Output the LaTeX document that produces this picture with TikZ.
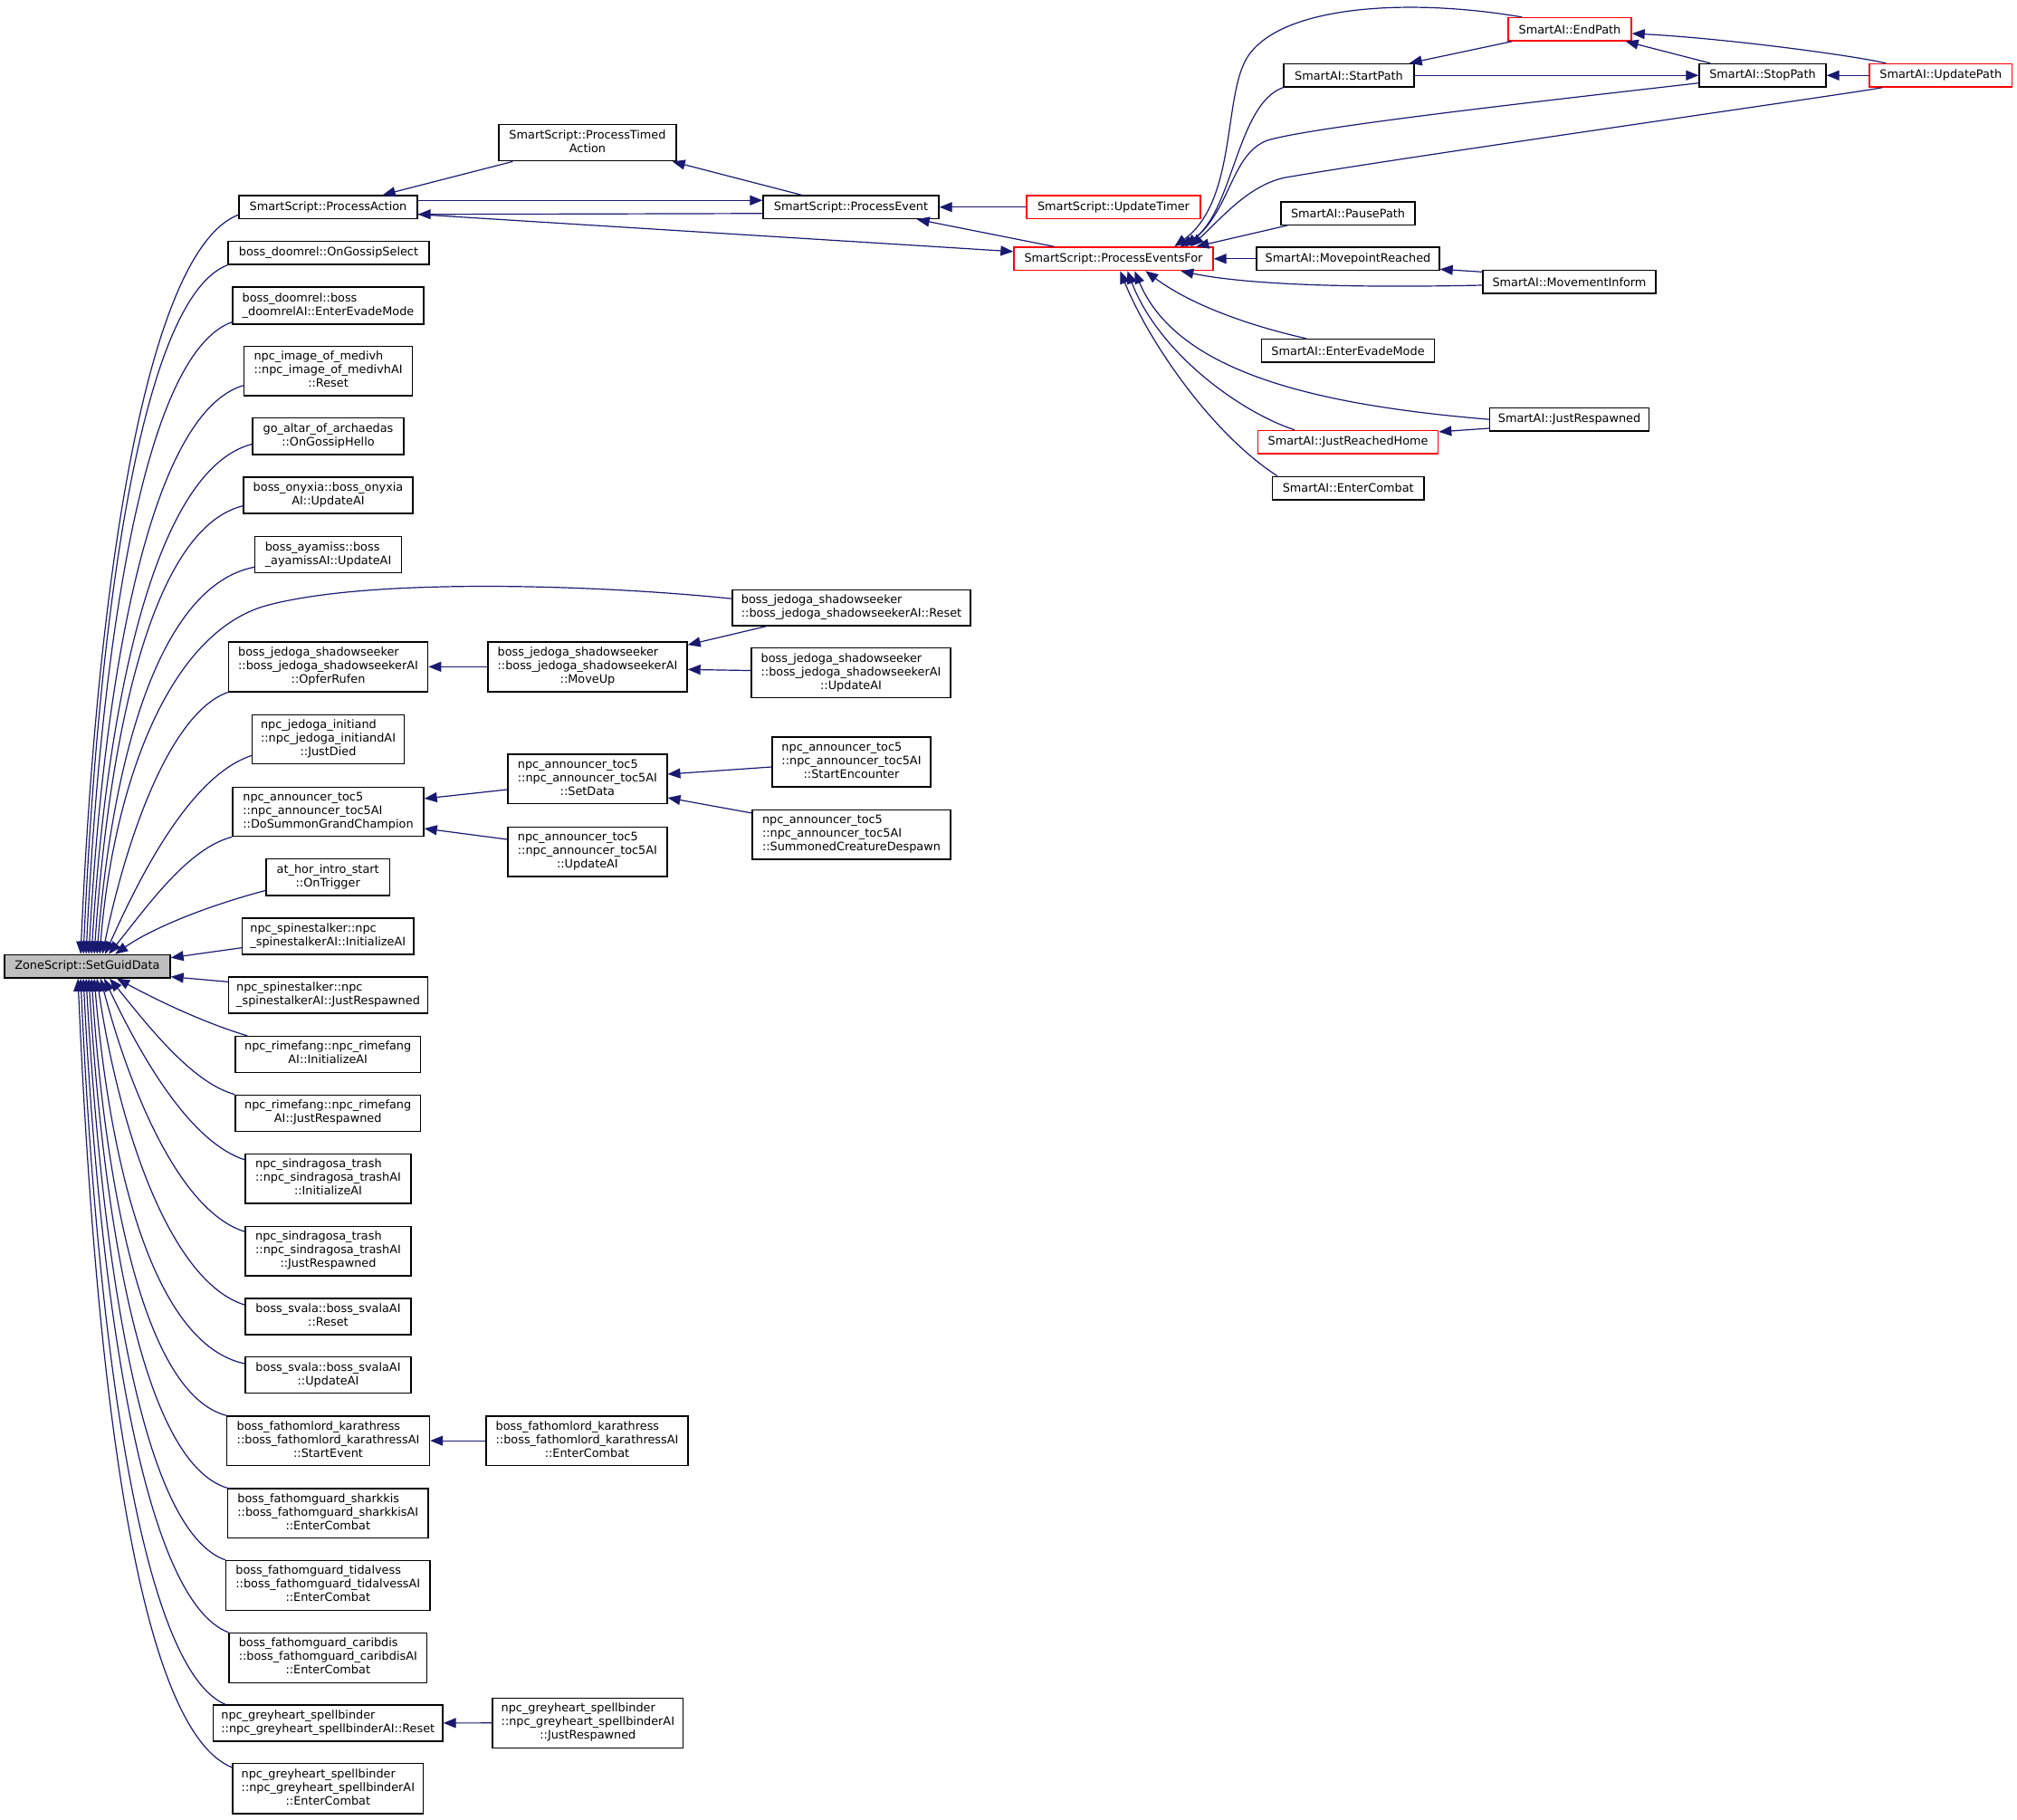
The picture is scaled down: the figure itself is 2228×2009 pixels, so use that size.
\documentclass[tikz,border=0pt]{standalone}
\usepackage{fontspec}
\setmainfont{DejaVu Sans}
\usetikzlibrary{arrows.meta,calc}
\newcommand{\lb}[1]{\begin{tabular}{@{}l@{}}#1\end{tabular}}
\newcommand{\cl}[1]{\multicolumn{1}{@{}c@{}}{#1}}
\newcommand{\nd}[7][box]{\node[#1, minimum width={(#5-#3)*0.5pt}, minimum height={(#6-#4)*0.5pt}] (#2) at ({(#3+#5)/2},{(#4+#6)/2}) {#7};}
\definecolor{edgeblue}{RGB}{25,25,112}
\definecolor{hlgray}{RGB}{191,191,191}
\begin{document}
\begin{tikzpicture}[x=0.5pt,y=-0.5pt,
  box/.style={draw=black, line width=0.7pt, fill=white, inner sep=0pt, anchor=center, font={\fontsize{6.42pt}{7.5pt}\selectfont}},
  redbox/.style={box, draw=red},
  graybox/.style={box, fill=hlgray},
  edge/.style={draw=edgeblue, line width=0.6pt, -{Triangle[length=7pt,width=5.5pt]}}]
\useasboundingbox (0,0) rectangle (2228,2009);

% ---- right cluster
\nd{PTA}{551}{137.5}{747}{177.7}{\lb{SmartScript::ProcessTimed\\ \cl{Action}}}
\nd{PA}{264}{216}{461}{241.5}{SmartScript::ProcessAction}
\nd{PE}{843}{216}{1037}{241.5}{SmartScript::ProcessEvent}
\nd[redbox]{UT}{1134}{216}{1326}{241.5}{SmartScript::UpdateTimer}
\nd[redbox]{PEF}{1120}{273}{1340}{298.6}{SmartScript::ProcessEventsFor}
\nd[redbox]{EP}{1666}{19.6}{1802}{45}{SmartAI::EndPath}
\nd{SP}{1418}{70.5}{1562}{96}{SmartAI::StartPath}
\nd{STP}{1877}{70.5}{2017}{96}{SmartAI::StopPath}
\nd[redbox]{UP}{2065}{70.5}{2222.5}{96}{SmartAI::UpdatePath}
\nd{PP}{1415}{222.8}{1563}{248.2}{SmartAI::PausePath}
\nd{MPR}{1388}{273}{1590}{298.6}{SmartAI::MovepointReached}
\nd{MI}{1638}{298.6}{1829}{324}{SmartAI::MovementInform}
\nd{SEE}{1393.5}{374.5}{1584.6}{400}{SmartAI::EnterEvadeMode}
\nd{JR}{1645.5}{450.4}{1821.6}{475.9}{SmartAI::JustRespawned}
\nd[redbox]{JRH}{1389.6}{475.4}{1588.6}{500.9}{SmartAI::JustReachedHome}
\nd{SEC}{1405.6}{526.3}{1572.8}{551.8}{SmartAI::EnterCombat}

% ---- left column and middle
\nd{OGS}{252}{266.5}{474}{292}{boss\_doomrel::OnGossipSelect}
\nd{DEE}{257}{317}{468}{358}{\lb{boss\_doomrel::boss\\ \cl{\_doomrelAI::EnterEvadeMode}}}
\nd{MED}{269.5}{382.6}{455.6}{437}{\lb{npc\_image\_of\_medivh\\ ::npc\_image\_of\_medivhAI\\ \cl{::Reset}}}
\nd{ALT}{279}{461.6}{446}{501.8}{\lb{go\_altar\_of\_archaedas\\ \cl{::OnGossipHello}}}
\nd{ONY}{269}{526.8}{456}{567}{\lb{boss\_onyxia::boss\_onyxia\\ \cl{AI::UpdateAI}}}
\nd{AYA}{281.6}{592.4}{443.5}{632.6}{\lb{boss\_ayamiss::boss\\ \cl{\_ayamissAI::UpdateAI}}}
\nd{JRS}{809}{651.3}{1072}{691}{\lb{boss\_jedoga\_shadowseeker\\ \cl{::boss\_jedoga\_shadowseekerAI::Reset}}}
\nd{OPF}{252.5}{708.9}{472.6}{763.8}{\lb{boss\_jedoga\_shadowseeker\\ ::boss\_jedoga\_shadowseekerAI\\ \cl{::OpferRufen}}}
\nd{MU}{539}{708.9}{759}{763.8}{\lb{boss\_jedoga\_shadowseeker\\ ::boss\_jedoga\_shadowseekerAI\\ \cl{::MoveUp}}}
\nd{JU}{830}{715.6}{1050}{770.5}{\lb{boss\_jedoga\_shadowseeker\\ ::boss\_jedoga\_shadowseekerAI\\ \cl{::UpdateAI}}}
\nd{INI}{278.7}{789.3}{446.4}{843.7}{\lb{npc\_jedoga\_initiand\\ ::npc\_jedoga\_initiandAI\\ \cl{::JustDied}}}
\nd{DS}{257}{869.2}{468}{923.6}{\lb{npc\_announcer\_toc5\\ ::npc\_announcer\_toc5AI\\ \cl{::DoSummonGrandChampion}}}
\nd{SD}{561}{833}{736.8}{887.5}{\lb{npc\_announcer\_toc5\\ ::npc\_announcer\_toc5AI\\ \cl{::SetData}}}
\nd{TU}{561}{913.4}{736.8}{967.8}{\lb{npc\_announcer\_toc5\\ ::npc\_announcer\_toc5AI\\ \cl{::UpdateAI}}}
\nd{SE}{853}{814}{1028}{869}{\lb{npc\_announcer\_toc5\\ ::npc\_announcer\_toc5AI\\ \cl{::StartEncounter}}}
\nd{SCD}{831}{894.6}{1050}{949}{\lb{npc\_announcer\_toc5\\ ::npc\_announcer\_toc5AI\\ \cl{::SummonedCreatureDespawn}}}
\nd{AH}{294}{948.6}{430.4}{988.8}{\lb{at\_hor\_intro\_start\\ \cl{::OnTrigger}}}
\nd[graybox]{Z}{4.8}{1054.4}{188}{1080}{ZoneScript::SetGuidData}
\nd{SPI}{267.6}{1013.8}{457}{1054}{\lb{npc\_spinestalker::npc\\ \cl{\_spinestalkerAI::InitializeAI}}}
\nd{SPJ}{252.5}{1079}{472.6}{1119}{\lb{npc\_spinestalker::npc\\ \cl{\_spinestalkerAI::JustRespawned}}}
\nd{RMI}{260}{1144.6}{464.4}{1184.3}{\lb{npc\_rimefang::npc\_rimefang\\ \cl{AI::InitializeAI}}}
\nd{RMJ}{260}{1209.3}{464.4}{1249.5}{\lb{npc\_rimefang::npc\_rimefang\\ \cl{AI::JustRespawned}}}
\nd{SDI}{271}{1274.5}{454}{1329}{\lb{npc\_sindragosa\_trash\\ ::npc\_sindragosa\_trashAI\\ \cl{::InitializeAI}}}
\nd{SDJ}{271}{1354.4}{454}{1409}{\lb{npc\_sindragosa\_trash\\ ::npc\_sindragosa\_trashAI\\ \cl{::JustRespawned}}}
\nd{SVR}{271}{1433.8}{454}{1473.8}{\lb{boss\_svala::boss\_svalaAI\\ \cl{::Reset}}}
\nd{SVU}{271}{1498.7}{454}{1538.7}{\lb{boss\_svala::boss\_svalaAI\\ \cl{::UpdateAI}}}
\nd{KS}{250.6}{1563.9}{474.5}{1618.3}{\lb{boss\_fathomlord\_karathress\\ ::boss\_fathomlord\_karathressAI\\ \cl{::StartEvent}}}
\nd{KE}{537}{1563.9}{760}{1618.3}{\lb{boss\_fathomlord\_karathress\\ ::boss\_fathomlord\_karathressAI\\ \cl{::EnterCombat}}}
\nd{SHK}{251.6}{1643.9}{473}{1698.3}{\lb{boss\_fathomguard\_sharkkis\\ ::boss\_fathomguard\_sharkkisAI\\ \cl{::EnterCombat}}}
\nd{TID}{249.6}{1723.5}{475}{1778.3}{\lb{boss\_fathomguard\_tidalvess\\ ::boss\_fathomguard\_tidalvessAI\\ \cl{::EnterCombat}}}
\nd{CAR}{253}{1803.5}{471.6}{1858.3}{\lb{boss\_fathomguard\_caribdis\\ ::boss\_fathomguard\_caribdisAI\\ \cl{::EnterCombat}}}
\nd{GR}{235.6}{1883}{489}{1922.8}{\lb{npc\_greyheart\_spellbinder\\ \cl{::npc\_greyheart\_spellbinderAI::Reset}}}
\nd{GJ}{544}{1875.4}{754.7}{1930.2}{\lb{npc\_greyheart\_spellbinder\\ ::npc\_greyheart\_spellbinderAI\\ \cl{::JustRespawned}}}
\nd{GE}{257}{1947.6}{467.7}{2002.8}{\lb{npc\_greyheart\_spellbinder\\ ::npc\_greyheart\_spellbinderAI\\ \cl{::EnterCombat}}}

% ---- SmartScript edges
\draw[edge] ($(PTA.south west)+(16,0)$) -- ($(PA.north east)+(-39,0)$);
\draw[edge] ($(PE.north west)+(43,0)$) -- ($(PTA.south east)+(-5,0)$);
\draw[edge] ($(PA.east)+(0,-7.5)$) -- ($(PE.west)+(0,-7.5)$);
\draw[edge] ($(PE.west)+(0,7)$) -- ($(PA.east)+(0,8)$);
\draw[edge] ($(PA.east)+(0,8)$) -- ($(PEF.west)+(0,-8)$);
\draw[edge] (UT.west) -- (PE.east);
\draw[edge] ($(PEF.north west)+(45,0)$) -- ($(PE.south east)+(-25,0)$);

% ---- SmartAI edges into ProcessEventsFor
\draw[edge] (SP.south west) .. controls (1365,115) and (1362,240) .. ($(PEF.north west)+(184,0)$);
\draw[edge] ($(EP.north west)+(16,0)$) .. controls (1560,-2) and (1420,5) .. (1380,60) .. controls (1350,100) and (1368,220) .. ($(PEF.north west)+(178,0)$);
\draw[edge] ($(STP.south west)+(0,-5)$) .. controls (1700,112) and (1450,140) .. (1400,155) .. controls (1360,170) and (1360,230) .. ($(PEF.north west)+(190,0)$);
\draw[edge] ($(UP.south west)+(15,0)$) .. controls (2040,104) and (1560,172) .. (1420,196) .. controls (1380,204) and (1350,240) .. ($(PEF.north west)+(196,0)$);
\draw[edge] ($(PP.south west)+(8,0)$) -- ($(PEF.north west)+(202,0)$);
\draw[edge] (MPR.west) -- (PEF.east);
\draw[edge] ($(MI.west)+(0,3.7)$) .. controls (1500,318) and (1380,315) .. ($(PEF.south west)+(185,0)$);
\draw[edge] ($(SEE.north west)+(50,0)$) .. controls (1390,362) and (1320,340) .. ($(PEF.south west)+(146,0)$);
\draw[edge] (JR.west) .. controls (1450,447) and (1300,410) .. ($(PEF.south west)+(134,0)$);
\draw[edge] ($(JRH.north west)+(41,0)$) .. controls (1370,455) and (1280,390) .. ($(PEF.south west)+(126,0)$);
\draw[edge] ($(SEC.north west)+(6,0)$) .. controls (1340,480) and (1270,380) .. ($(PEF.south west)+(118,0)$);

\draw[edge] ($(EP.south west)+(5,0)$) -- ($(SP.north east)+(-6,0)$);
\draw[edge] (SP.east) -- (STP.west);
\draw[edge] ($(STP.north west)+(13,0)$) -- ($(EP.south east)+(-7,0)$);
\draw[edge] ($(UP.north west)+(19,0)$) .. controls (2040,60) and (1900,42) .. ($(EP.east)+(0,4.7)$);
\draw[edge] (UP.west) -- (STP.east);
\draw[edge] ($(MI.north west)+(0,2.4)$) -- ($(MPR.south east)+(0,-2)$);
\draw[edge] ($(JR.south west)+(0,-3.6)$) -- ($(JRH.north east)+(0,2.2)$);

% ---- middle edges
\draw[edge] (MU.west) -- (OPF.east);
\draw[edge] ($(JRS.south west)+(38,0)$) -- ($(MU.north east)+(0,4)$);
\draw[edge] ($(JU.west)+(0,-2.5)$) -- ($(MU.east)+(0,3)$);
\draw[edge] ($(SD.west)+(0,11.75)$) -- ($(DS.east)+(0,-14.4)$);
\draw[edge] ($(TU.west)+(0,-13.6)$) -- ($(DS.east)+(0,18.6)$);
\draw[edge] ($(SE.west)+(0,5.5)$) -- ($(SD.east)+(0,-5.25)$);
\draw[edge] ($(SCD.north west)+(0,4)$) -- ($(SD.east)+(0,20.75)$);
\draw[edge] (KE.west) -- (KS.east);
\draw[edge] (GJ.west) -- (GR.east);

% ---- edges into ZoneScript::SetGuidData (upper)
\draw[edge] ($(PA.south west)+(0,-5)$) .. controls (161,277) and (107,645) .. ($(Z.north west)+(85,0)$);
\draw[edge] (OGS.south west) .. controls (157,329) and (109,672) .. ($(Z.north west)+(88,0)$);
\draw[edge] ($(DEE.south west)+(0,-3)$) .. controls (160,390) and (112,704) .. ($(Z.north west)+(91,0)$);
\draw[edge] ($(MED.south west)+(0,-12)$) .. controls (167,456) and (115,740) .. ($(Z.north west)+(94,0)$);
\draw[edge] ($(ALT.south west)+(0,-12)$) .. controls (172,518) and (118,772) .. ($(Z.north west)+(97,0)$);
\draw[edge] ($(ONY.south west)+(0,-9)$) .. controls (169,583) and (121,806) .. ($(Z.north west)+(100,0)$);
\draw[edge] ($(AYA.south west)+(0,-7)$) .. controls (175,647) and (124,840) .. ($(Z.north west)+(103,0)$);
\draw[edge] ($(JRS.west)+(0,-10)$) .. controls (650,645) and (400,638) .. (290,670) .. controls (180,705) and (124,880) .. ($(Z.north west)+(106,0)$);
\draw[edge] (OPF.south west) .. controls (188,787) and (140,924) .. ($(Z.north west)+(109,0)$);
\draw[edge] ($(INI.south west)+(0,-10)$) .. controls (212,856) and (157,962) .. ($(Z.north west)+(112,0)$);
\draw[edge] (DS.south west) .. controls (207,937) and (162,1002) .. ($(Z.north west)+(116,0)$);
\draw[edge] ($(AH.south west)+(0,-6)$) .. controls (230,1000) and (168,1025) .. ($(Z.north west)+(123,0)$);
\draw[edge] ($(SPI.south west)+(0,-8)$) -- ($(Z.north east)+(0,4)$);
\draw[edge] ($(SPJ.north west)+(0,6)$) -- ($(Z.south east)+(0,-2)$);

% ---- edges into ZoneScript::SetGuidData (lower)
\draw[edge] ($(RMI.north west)+(14,0)$) .. controls (220,1128) and (165,1100) .. ($(Z.south west)+(125,0)$);
\draw[edge] (RMJ.north west) .. controls (212,1196) and (163,1132) .. ($(Z.south west)+(117,0)$);
\draw[edge] ($(SDI.north west)+(0,7)$) .. controls (209,1261) and (155,1165) .. ($(Z.south west)+(111,0)$);
\draw[edge] ($(SDJ.north west)+(0,6.5)$) .. controls (199,1338) and (144,1206) .. ($(Z.south west)+(107,0)$);
\draw[edge] ($(SVR.north west)+(0,8)$) .. controls (189,1416) and (132,1250) .. ($(Z.south west)+(103,0)$);
\draw[edge] ($(SVU.north west)+(0,8)$) .. controls (171,1485) and (122,1293) .. ($(Z.south west)+(100,0)$);
\draw[edge] (KS.north west) .. controls (161,1540) and (117,1322) .. ($(Z.south west)+(97,0)$);
\draw[edge] (SHK.north west) .. controls (160,1616) and (115,1362) .. ($(Z.south west)+(94,0)$);
\draw[edge] (TID.north west) .. controls (158,1691) and (113,1402) .. ($(Z.south west)+(91,0)$);
\draw[edge] (CAR.north west) .. controls (159,1767) and (110,1442) .. ($(Z.south west)+(88,0)$);
\draw[edge] ($(GR.north west)+(14,0)$) .. controls (156,1843) and (107,1482) .. ($(Z.south west)+(85,0)$);
\draw[edge] ($(GE.north west)+(0,5)$) .. controls (150,1909) and (105,1517) .. ($(Z.south west)+(82,0)$);
\end{tikzpicture}
\end{document}
